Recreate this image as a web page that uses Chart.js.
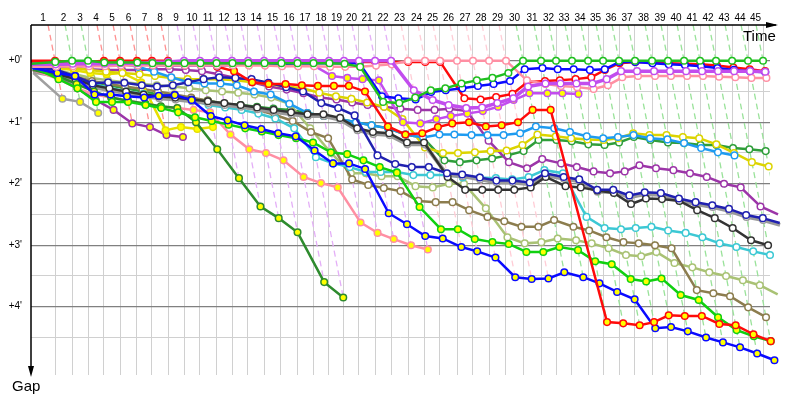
<!DOCTYPE html>
<html>
<head>
<meta charset="utf-8">
<script src="https://cdn.jsdelivr.net/npm/chart.js@4.4.1/dist/chart.umd.min.js"></script>
<style>
  html, body { margin: 0; padding: 0; background: #fff; }
  canvas { display: block; }
</style>
</head>
<body>
<canvas id="chart" width="800" height="400"></canvas>
<script>
// leader's elapsed time (minutes) at the end of each lap, index 0 = start
const leaderTimes = [0, 2.0, 3.42, 4.75, 6.08, 7.42, 8.83, 10.08, 11.42, 12.75, 14.08,
  15.42, 16.75, 18.08, 19.42, 20.83, 22.17, 23.5, 24.83, 26.08, 27.33,
  28.67, 30.0, 31.42, 32.83, 34.08, 35.5, 36.83, 38.17, 39.58, 41.0,
  42.5, 43.75, 45.08, 46.42, 47.67, 49.0, 50.33, 51.75, 53.08, 54.42,
  55.75, 57.08, 58.42, 59.75, 61.0];
const lapNumbers = Array.from({ length: 45 }, (_, i) => i + 1);
const gapTicks = [0, 0.5, 1, 1.5, 2, 2.5, 3, 3.5, 4, 4.5];

// gap to the leader (minutes) at the end of each lap, index 0 = start
const greenLead = [0.05, 0.02, 0, 0, 0.03, 0.03, 0.03, 0.04, 0.04, 0.04, 0.04, 0.04, 0.04, 0.04, 0.04, 0.04,
  0.04, 0.04, 0.04, 0.05, 0.1, 0.67, 0.69, 0.6, 0.48, 0.45, 0.37, 0.32, 0.28, 0.2,
  0, 0, 0, 0, 0, 0, 0, 0, 0, 0, 0, 0, 0, 0, 0, 0];
const blueTop = [0.08, 0.1, 0.08, 0.06, 0.06, 0.06, 0.06, 0.07, 0.08, 0.08, 0.08, 0.08, 0.07, 0.06, 0.05, 0.05,
  0.04, 0.04, 0.04, 0.04, 0.04, 0.58, 0.61, 0.63, 0.51, 0.48, 0.45, 0.41, 0.38, 0.33,
  0.14, 0.12, 0.14, 0.14, 0.15, 0.14, 0.02, 0.02, 0.04, 0.06, 0.07, 0.09, 0.12, 0.15, 0.17, 0.19];
const redWhite = [0.02, 0.03, 0.03, 0.03, 0.03, 0.03, 0.03, 0.03, 0.03, 0.02, 0.02, 0.02, 0.02, 0.02, 0.02, 0.02,
  0.02, 0.02, 0.02, 0.02, 0.02, 0.02, 0.02, 0.02, 0.02, 0.02, 0.61, 0.63, 0.59, 0.54,
  0.35, 0.33, 0.32, 0.3, 0.27, 0.15, 0.04, 0.02, 0.03, 0.04, 0.05, 0.06, 0.08, 0.11, 0.14, 0.17];
const pinkWhite = [0.1, 0.1, 0.09, 0.09, 0.09, 0.08, 0.08, 0.08, 0.08, 0.08, 0.08, 0.08, 0.08, 0.08, 0.08, 0.09,
  0.09, 0.09, 0.1, 0.1, 0.1, 0.08, 0.06, 0, 0, 0, 0, 0, 0, 0,
  0.32, 0.38, 0.41, 0.43, 0.46, 0.4, 0.27, 0.25, 0.25, 0.25, 0.25, 0.25, 0.26, 0.27, 0.28, 0.28];
const violetWhite = [0.06, 0.06, 0.05, 0.05, 0.05, 0.04, 0.04, 0.03, 0.02, 0, 0, 0, 0, 0, 0, 0,
  0, 0, 0, 0, 0, 0, 0, 0.48, 0.64, 0.72, 0.77, 0.76, 0.69, 0.61,
  0.42, 0.37, 0.37, 0.37, 0.37, 0.3, 0.17, 0.17, 0.17, 0.17, 0.17, 0.17, 0.17, 0.17, 0.17, 0.18];
const violetYellow = [0.07, 0.07, 0.07, 0.06, 0.06, 0.06, 0.05, 0.05, 0.04, 0.03, 0.03, 0.03, 0.03, 0.03, 0.04, 0.07,
  0.08, 0.08, 0.25, 0.28, 0.3, 0.32, 1.0, 1.02, 0.95, 0.9, 0.86, 0.82, 0.75, 0.64,
  0.53, 0.53, 0.53, 0.54];
const redYellow = [0, 0, 0.02, 0.02, 0, 0, 0, 0, 0, 0.08, 0.04, 0.1, 0.17, 0.35, 0.38, 0.38,
  0.4, 0.41, 0.41, 0.41, 0.5, 1.07, 1.2, 1.18, 1.08, 1.02, 1.0, 1.07, 1.05, 1.0,
  0.8, 0.8, 4.25, 4.27, 4.3, 4.25, 4.14, 4.15, 4.15, 4.28, 4.3, 4.45, 4.56];
const blueYellow = [0.12, 0.2, 0.25, 0.55, 0.55, 0.58, 0.6, 0.57, 0.56, 0.64, 0.9, 0.97, 1.05, 1.11, 1.18, 1.23,
  1.46, 1.67, 1.67, 1.76, 2.48, 2.66, 2.85, 2.89, 3.03, 3.1, 3.2, 3.52, 3.55, 3.54,
  3.44, 3.52, 3.62, 3.76, 3.88, 4.35, 4.33, 4.4, 4.5, 4.58, 4.66, 4.76, 4.87];
const limeYellow = [0.1, 0.3, 0.45, 0.67, 0.67, 0.67, 0.72, 0.77, 0.84, 0.92, 0.98, 1.04, 1.1, 1.15, 1.21, 1.26,
  1.33, 1.49, 1.52, 1.62, 1.73, 1.82, 2.38, 2.74, 2.74, 2.9, 2.95, 2.98, 3.11, 3.11,
  3.03, 3.08, 3.26, 3.31, 3.55, 3.59, 3.54, 3.81, 3.89, 4.17, 4.38, 4.48, 4.56];
const forestYellow = [0.15, 0.25, 0.38, 0.5, 0.6, 0.65, 0.7, 0.74, 0.77, 1.0, 1.44, 1.91, 2.37, 2.56, 2.79, 3.6, 3.85];
const pinkYellow = [0.15, 0.3, 0.45, 0.55, 0.6, 0.65, 0.7, 0.75, 0.77, 0.8, 0.84, 1.2, 1.44, 1.5, 1.62, 1.89,
  1.99, 2.06, 2.63, 2.8, 2.9, 3.0, 3.07];
const black = [0.15, 0.22, 0.3, 0.4, 0.45, 0.5, 0.55, 0.58, 0.6, 0.63, 0.66, 0.69, 0.72, 0.76, 0.8, 0.84,
  0.87, 0.87, 0.93, 1.1, 1.16, 1.18, 1.33, 1.33, 1.89, 2.1, 2.1, 2.1, 2.1, 2.06,
  1.89, 2.04, 2.06, 2.11, 2.15, 2.33, 2.24, 2.25, 2.28, 2.43, 2.56, 2.72, 2.92, 3.0];
const gray = [0.18, 0.25, 0.33, 0.43, 0.48, 0.53, 0.58, 0.61, 0.63, 0.66, 0.69, 0.72, 0.75, 0.79, 0.83, 0.87,
  0.9, 0.9, 0.96, 1.13, 1.19, 1.21, 1.36, 1.36, 1.86, 1.88, 1.93, 1.98, 1.98, 2.01,
  1.86, 1.92, 1.96, 2.13, 2.13, 2.22, 2.17, 2.18, 2.27, 2.33, 2.38, 2.44, 2.54, 2.59, 2.67];
const navy = [0.1, 0.15, 0.25, 0.37, 0.35, 0.36, 0.4, 0.42, 0.4, 0.35, 0.3, 0.27, 0.28, 0.3, 0.36, 0.43,
  0.5, 0.69, 0.77, 0.89, 1.54, 1.68, 1.73, 1.73, 1.83, 1.85, 1.9, 1.95, 1.95, 1.98,
  1.83, 1.89, 1.93, 2.1, 2.1, 2.19, 2.14, 2.15, 2.24, 2.3, 2.35, 2.41, 2.51, 2.56, 2.64];
const cyan = [0.12, 0.15, 0.28, 0.38, 0.44, 0.5, 0.54, 0.58, 0.6, 0.64, 0.72, 0.76, 0.8, 0.86, 0.94, 1.1,
  1.57, 1.67, 1.73, 1.81, 1.81, 1.81, 1.86, 1.86, 1.86, 1.9, 1.9, 1.91, 1.93, 1.89,
  1.78, 1.83, 2.54, 2.72, 2.74, 2.72, 2.7, 2.76, 2.8, 2.87, 2.97, 3.03, 3.1, 3.16];
const skyBlue = [0.1, 0.1, 0.06, 0.04, 0.02, 0.05, 0.1, 0.18, 0.27, 0.35, 0.37, 0.37, 0.4, 0.5, 0.55, 0.7,
  0.85, 0.9, 0.95, 1.0, 1.05, 1.1, 1.2, 1.25, 1.2, 1.2, 1.21, 1.21, 1.21, 1.18,
  1.07, 1.1, 1.16, 1.23, 1.26, 1.24, 1.21, 1.26, 1.28, 1.34, 1.42, 1.49, 1.54];
const yellowWhite = [0.08, 0.1, 0.12, 0.15, 0.18, 0.2, 0.22, 0.25, 0.28, 0.3, 0.3, 0.3, 0.32, 0.35, 0.38, 0.42,
  0.45, 0.52, 0.58, 0.62, 0.68, 0.75, 0.95, 1.41, 1.5, 1.5, 1.49, 1.47, 1.46, 1.37,
  1.2, 1.23, 1.26, 1.28, 1.29, 1.26, 1.18, 1.21, 1.21, 1.24, 1.26, 1.36, 1.5, 1.65, 1.72];
const yellowYellow = [0.08, 0.12, 0.15, 0.2, 0.22, 0.2, 0.35, 1.13, 1.08, 1.11, 1.08];
const purpleWhite = [0.1, 0.1, 0.12, 0.14, 0.15, 0.15, 0.15, 0.14, 0.14, 0.15, 0.17, 0.22, 0.28, 0.35, 0.42, 0.47,
  0.53, 0.6, 0.63, 0.68, 0.72, 0.75, 0.78, 0.8, 0.8, 0.78, 0.82, 1.3, 1.65, 1.75,
  1.6, 1.67, 1.73, 1.8, 1.83, 1.8, 1.7, 1.75, 1.78, 1.83, 1.89, 2.0, 2.06, 2.37, 2.5];
const purpleYellow = [0.15, 0.27, 0.45, 0.64, 0.8, 1.02, 1.08, 1.21, 1.24];
const grayYellow = [0.2, 0.62, 0.67, 0.85];
const olive = [0.12, 0.18, 0.26, 0.33, 0.38, 0.42, 0.46, 0.5, 0.55, 0.6, 0.65, 0.7, 0.75, 0.8, 0.88, 0.98,
  1.16, 1.26, 1.93, 2.02, 2.07, 2.12, 2.28, 2.3, 2.3, 2.43, 2.54, 2.61, 2.7, 2.7,
  2.59, 2.7, 2.76, 2.87, 2.95, 2.97, 3.0, 3.05, 3.73, 3.78, 3.83, 4.01, 4.17];
const lightOlive = [0.12, 0.15, 0.22, 0.28, 0.32, 0.35, 0.38, 0.4, 0.42, 0.45, 0.48, 0.5, 0.52, 0.55, 0.6, 0.7,
  1.1, 1.5, 1.83, 1.83, 1.88, 1.88, 2.04, 2.06, 2.0, 2.0, 2.4, 2.87, 2.97, 2.95,
  2.89, 2.92, 2.97, 3.05, 3.16, 3.18, 3.11, 3.29, 3.36, 3.44, 3.5, 3.57, 3.65, 3.8];
const darkGreen = [0.1, 0.18, 0.28, 0.34, 0.4, 0.45, 0.5, 0.55, 0.58, 0.62, 0.65, 0.7, 0.72, 0.75, 0.78, 0.8,
  0.85, 0.9, 0.95, 1.0, 1.05, 1.1, 1.2, 1.25, 1.62, 1.65, 1.62, 1.59, 1.54, 1.47,
  1.29, 1.29, 1.31, 1.36, 1.37, 1.33, 1.24, 1.29, 1.33, 1.34, 1.37, 1.37, 1.42, 1.44, 1.47];

const YEL = '#ffff00';
const WHT = '#ffffff';
// first in the list is drawn on top
const cars = [
  { gaps: greenLead, color: '#1fbf1f', fill: WHT },
  { gaps: violetWhite, color: '#c24dee', fill: WHT, width: 3.5 },
  { gaps: pinkWhite, color: '#ff8fa3', fill: WHT },
  { gaps: blueTop, color: '#0a0aff', fill: WHT },
  { gaps: redWhite, color: '#ff0a0a', fill: WHT },
  { gaps: redYellow, color: '#ff0a0a', fill: YEL },
  { gaps: violetYellow, color: '#c24dee', fill: YEL },
  { gaps: blueYellow, color: '#0a0aff', fill: YEL },
  { gaps: limeYellow, color: '#10d010', fill: YEL },
  { gaps: forestYellow, color: '#2e8b2e', fill: YEL },
  { gaps: pinkYellow, color: '#ff8fa3', fill: YEL },
  { gaps: navy, color: '#2020b0', fill: WHT },
  { gaps: black, color: '#333333', fill: WHT },
  { gaps: gray, color: '#9a9a9a', fill: WHT, width: 4 },
  { gaps: cyan, color: '#3cc8d4', fill: WHT },
  { gaps: skyBlue, color: '#1e9bf0', fill: WHT },
  { gaps: yellowWhite, color: '#dcd400', fill: WHT },
  { gaps: yellowYellow, color: '#e6df00', fill: YEL },
  { gaps: purpleWhite, color: '#9c35a8', fill: WHT },
  { gaps: purpleYellow, color: '#9c35a8', fill: YEL },
  { gaps: grayYellow, color: '#a0a0a0', fill: YEL },
  { gaps: olive, color: '#8c7d4e', fill: WHT },
  { gaps: lightOlive, color: '#a9c274', fill: WHT },
  { gaps: darkGreen, color: '#2f9e3a', fill: WHT },
];

const Y_MIN = -0.58, Y_MAX = 5.11;

function lighten(hex, k) {
  const n = parseInt(hex.slice(1), 16);
  const c = [(n >> 16) & 255, (n >> 8) & 255, n & 255].map(v => Math.round(v + (255 - v) * k));
  return `rgb(${c[0]},${c[1]},${c[2]})`;
}

// one dashed line per lap, through every car's point of that lap
const lapLines = lapNumbers.map(n => {
  let lead = null, maxGap = 0;
  cars.forEach(c => {
    if (c.gaps.length <= n) return;
    const g = c.gaps[n];
    if (lead === null || g < lead.gaps[n]) lead = c;
    if (g > maxGap) maxGap = g;
  });
  const t = leaderTimes[n];
  return {
    data: [{ x: t + Y_MIN, y: Y_MIN }, { x: t + maxGap, y: maxGap }],
    borderColor: lighten(lead.color, 0.55),
    borderWidth: 1.3,
    borderDash: [6, 4],
    pointRadius: 0,
    order: 10,
  };
});

const carSets = cars.map(c => ({
  data: c.gaps.map((g, i) => ({ x: leaderTimes[i] + g, y: g })),
  borderColor: c.color,
  borderWidth: c.width || 2.5,
  pointBackgroundColor: c.fill,
  pointBorderColor: c.color,
  pointBorderWidth: 1.5,
  pointRadius: ctx => ctx.dataIndex === 0 ? 0 : 3.3,
  clip: false,
  order: 0,
}));

const frame = {
  id: 'frame',
  beforeDraw(chart) {
    const ctx = chart.ctx;
    ctx.save();
    ctx.fillStyle = '#fff';
    ctx.fillRect(0, 0, chart.width, chart.height);
    ctx.restore();
  },
  afterDraw(chart) {
    const { ctx, chartArea: a, scales: { x } } = chart;
    ctx.save();
    ctx.strokeStyle = '#000';
    ctx.fillStyle = '#000';
    ctx.lineWidth = 1.5;
    ctx.beginPath();
    ctx.moveTo(a.left, a.top);
    ctx.lineTo(a.right + 6, a.top);
    ctx.moveTo(a.left, a.top);
    ctx.lineTo(a.left, a.bottom - 4);
    ctx.stroke();
    // arrow heads
    ctx.beginPath();
    ctx.moveTo(a.right + 8, a.top);
    ctx.lineTo(a.right - 4, a.top - 3);
    ctx.lineTo(a.right - 4, a.top + 3);
    ctx.closePath();
    ctx.fill();
    ctx.beginPath();
    ctx.moveTo(a.left, a.bottom + 2);
    ctx.lineTo(a.left - 3, a.bottom - 9);
    ctx.lineTo(a.left + 3, a.bottom - 9);
    ctx.closePath();
    ctx.fill();

    ctx.font = '10px "Liberation Sans"';
    ctx.textAlign = 'center';
    ctx.textBaseline = 'alphabetic';
    lapNumbers.forEach(n => {
      const cx = (x.getPixelForValue(leaderTimes[n - 1]) + x.getPixelForValue(leaderTimes[n])) / 2;
      ctx.fillText(String(n), cx, a.top - 4);
    });
    ctx.font = '15px "Liberation Sans"';
    ctx.textAlign = 'left';
    ctx.fillText('Time', a.right - 27, a.top + 16);
    ctx.fillText('Gap', 12, a.bottom + 16);
    ctx.restore();
  }
};

new Chart(document.getElementById('chart'), {
  type: 'line',
  data: { datasets: [...carSets, ...lapLines] },
  options: {
    responsive: false,
    animation: false,
    devicePixelRatio: 1,
    events: [],
    layout: { padding: { left: 0, top: 0, right: 30, bottom: 25 } },
    elements: { line: { tension: 0 } },
    plugins: { legend: { display: false }, tooltip: { enabled: false } },
    scales: {
      x: {
        type: 'linear',
        position: 'top',
        min: 0,
        max: 61.58,
        afterBuildTicks: s => { s.ticks = leaderTimes.slice(1).map(v => ({ value: v })); },
        afterFit: s => { s.height = 25; },
        ticks: { display: false },
        border: { display: false },
        grid: { color: '#d0d0d0', lineWidth: 1, drawTicks: false },
      },
      y: {
        type: 'linear',
        reverse: true,
        min: Y_MIN,
        max: Y_MAX,
        afterBuildTicks: s => { s.ticks = gapTicks.map(v => ({ value: v })); },
        afterFit: s => { s.width = 31; },
        border: { display: false },
        grid: {
          drawTicks: false,
          color: c => Number.isInteger(c.tick.value) ? '#808080' : '#d0d0d0',
          lineWidth: c => Number.isInteger(c.tick.value) ? 1.2 : 1,
        },
        ticks: {
          padding: 9,
          color: '#000',
          font: { family: 'Liberation Sans', size: 10 },
          callback: v => Number.isInteger(v) ? `+${v}'` : '',
        },
      },
    },
  },
  plugins: [frame],
});
</script>
</body>
</html>
